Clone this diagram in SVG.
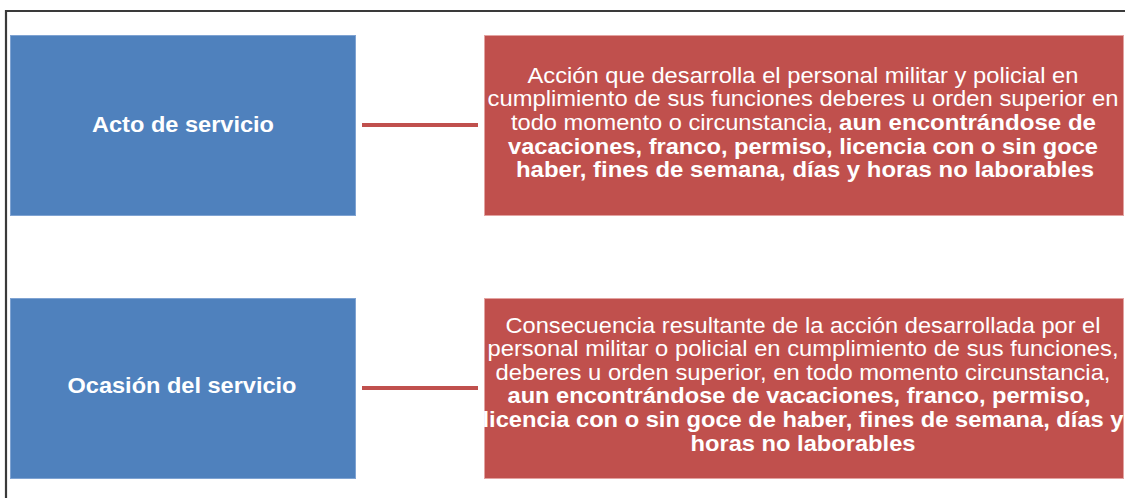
<svg xmlns="http://www.w3.org/2000/svg" width="1125" height="498" viewBox="0 0 1125 498">
<style>
.blue{fill:#4F81BD;stroke:#7FA3D2;stroke-width:1}
.red{fill:#C0504D;stroke:#E3A3A1;stroke-width:1}
.lbl{font-family:"Liberation Sans",Arial,sans-serif;font-weight:bold;font-size:22px;fill:#FFFFFF;text-anchor:middle}
.t{font-family:"Liberation Sans",Arial,sans-serif;font-size:22.5px;fill:#FFFFFF}
.c{text-anchor:middle}
.b{font-weight:bold}
.conn{stroke:#C0504D;stroke-width:4;fill:none}
</style>
<rect x="0" y="0" width="1125" height="498" fill="#FFFFFF"/>
<path d="M6,499 V11 H1126" fill="none" stroke="#3a3a3a" stroke-width="2.2"/>
<g id="connectors">
<line class="conn" x1="362" y1="125" x2="478" y2="125"/>
<line class="conn" x1="362" y1="388" x2="478" y2="388"/>
</g>
<g id="acto">
<rect class="blue" x="10.5" y="35.5" width="345" height="180"/>
<text class="lbl" x="183" y="132" textLength="182" lengthAdjust="spacingAndGlyphs">Acto de servicio</text>
</g>
<g id="acto-def">
<rect class="red" x="484.5" y="35.5" width="639" height="180"/>
<text class="t c" x="803" y="83" textLength="551" lengthAdjust="spacingAndGlyphs">Acción que desarrolla el personal militar y policial en</text>
<text class="t c" x="803" y="106" textLength="631" lengthAdjust="spacingAndGlyphs">cumplimiento de sus funciones deberes u orden superior en</text>
<text class="t" x="511" y="130" textLength="322" lengthAdjust="spacingAndGlyphs">todo momento o circunstancia,</text>
<text class="t b" x="839" y="130" textLength="257" lengthAdjust="spacingAndGlyphs">aun encontrándose de</text>
<text class="t c b" x="803" y="154" textLength="590" lengthAdjust="spacingAndGlyphs">vacaciones, franco, permiso, licencia con o sin goce</text>
<text class="t c b" x="805" y="177" textLength="578" lengthAdjust="spacingAndGlyphs">haber, fines de semana, días y horas no laborables</text>
</g>
<g id="ocasion">
<rect class="blue" x="10.5" y="298.5" width="345" height="180"/>
<text class="lbl" x="182" y="393" textLength="229" lengthAdjust="spacingAndGlyphs">Ocasión del servicio</text>
</g>
<g id="ocasion-def">
<rect class="red" x="484.5" y="298.5" width="639" height="180"/>
<text class="t c" x="803" y="333" textLength="595" lengthAdjust="spacingAndGlyphs">Consecuencia resultante de la acción desarrollada por el</text>
<text class="t c" x="803" y="356" textLength="631" lengthAdjust="spacingAndGlyphs">personal militar o policial en cumplimiento de sus funciones,</text>
<text class="t c" x="803" y="380" textLength="615" lengthAdjust="spacingAndGlyphs">deberes u orden superior, en todo momento circunstancia,</text>
<text class="t c b" x="799" y="403" textLength="583" lengthAdjust="spacingAndGlyphs">aun encontrándose de vacaciones, franco, permiso,</text>
<text class="t c b" x="803" y="427" textLength="641" lengthAdjust="spacingAndGlyphs">licencia con o sin goce de haber, fines de semana, días y</text>
<text class="t c b" x="803" y="451" textLength="225" lengthAdjust="spacingAndGlyphs">horas no laborables</text>
</g>
</svg>
